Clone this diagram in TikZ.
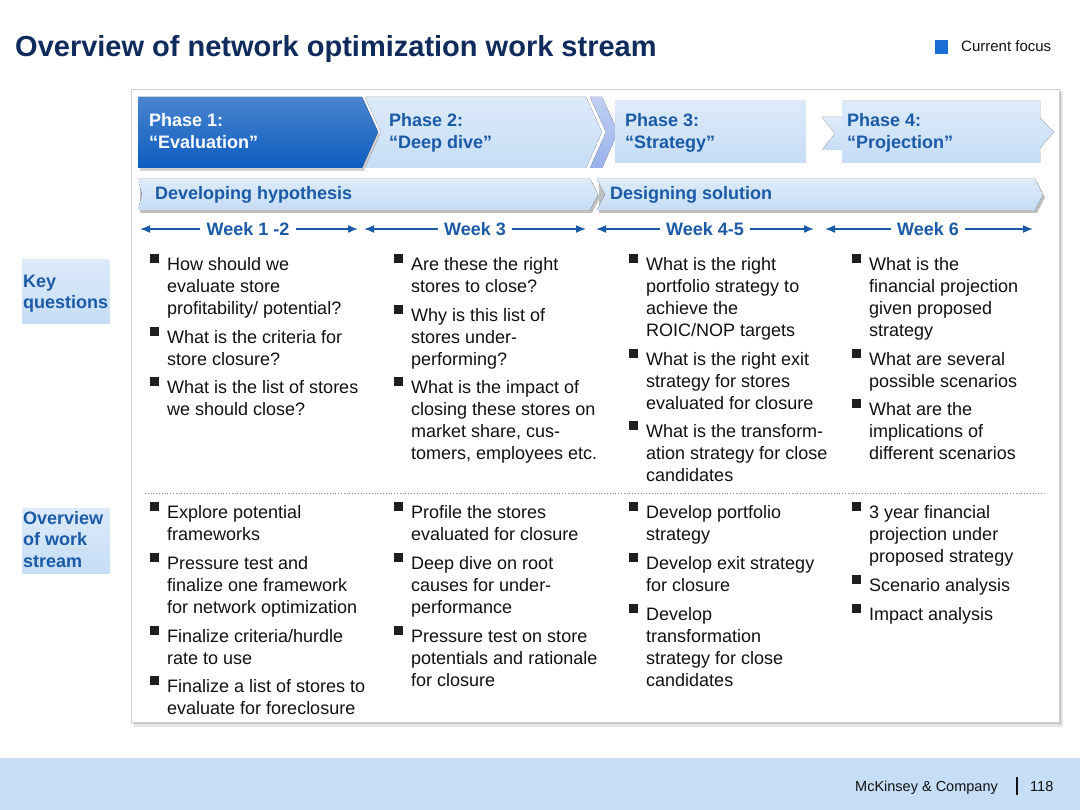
\documentclass[tikz,border=0pt]{standalone}
\usepackage{fontspec}
\setmainfont{Liberation Sans}
\usetikzlibrary{arrows.meta}
\definecolor{navy}{HTML}{0F2B5B}
\definecolor{pblue}{HTML}{0D5CBF}
\definecolor{lblue}{HTML}{C6DDF6}
\definecolor{tblue}{HTML}{1A5AA6}
\definecolor{bandc}{HTML}{98B1EA}
\definecolor{footc}{HTML}{C6DDF6}
\definecolor{focusc}{HTML}{1A6FD6}
\definecolor{txt}{HTML}{111111}
\tikzset{
  itm/.style={anchor=north west, align=left, inner sep=0pt, text=txt,
    font=\fontsize{18}{22}\selectfont},
  phasetxt/.style={anchor=north west, align=left, inner sep=0pt,
    font=\fontsize{18}{22}\selectfont\bfseries},
  bandtxt/.style={anchor=base west, inner sep=0pt, text=tblue,
    font=\fontsize{18}{22}\selectfont\bfseries},
  wk/.style={inner sep=6pt, text=tblue, font=\fontsize{18}{22}\selectfont\bfseries},
  warrow/.style={draw=tblue, line width=1.5pt, -{Latex[length=10pt,width=8pt]}},
  sidetxt/.style={anchor=north west, align=left, inner sep=0pt, text=tblue,
    font=\fontsize{18}{21.5}\selectfont\bfseries},
  lightshape/.style={top color=lblue!60!white, bottom color=lblue},
  bul/.style={fill=black!88},
}
% #1 name, #2 x of text, #3 baseline of first line, #4 text
\newcommand\bitem[4]{%
  \fill[bul] ({#2-17},{#3-16}) rectangle ({#2-8},{#3-7});
  \node[itm] (#1) at (#2,{#3-14}) {\rule{0pt}{14pt}#4};}
\begin{document}
\begin{tikzpicture}[x=1pt,y=-1pt]
\useasboundingbox (0,0) rectangle (1080,810);
\fill[white] (0,0) rectangle (1080,810);
% footer
\fill[footc] (0,758) rectangle (1080,810);
\node[anchor=base west, inner sep=0pt, text=txt, font=\fontsize{14.5}{16}\selectfont] (mck) at (855,791) {McKinsey \& Company};
\draw[line width=1.2pt, txt] (1017,777) -- (1017,795);
\node[anchor=base west, inner sep=0pt, text=txt, font=\fontsize{14.5}{16}\selectfont] (pg) at (1030,791) {118};
% title
\node[anchor=base west, inner sep=0pt, text=navy, font=\fontsize{29}{34}\selectfont\bfseries] (title) at (15,57) {Overview of network optimization work stream};
\fill[focusc] (935,40) rectangle (948,54);
\node[anchor=base west, inner sep=0pt, text=txt, font=\fontsize{15}{17}\selectfont] (focus) at (961,52) {Current focus};
% panel
\fill[black!10] (134,92) rectangle (1063,727);
\fill[black!24] (133,91) rectangle (1061,724);
\filldraw[fill=white, draw=black!18, line width=0.8pt] (131,89) rectangle (1059,722);
% phase shapes
\fill[black!18] (140,100) -- (364,100) -- (380,135) -- (364,171) -- (140,171) -- cycle;
\fill[top color=pblue!75!white, bottom color=pblue] (138,97) -- (362,97) -- (378,132) -- (362,168) -- (138,168) -- cycle;
\fill[lightshape] (365,97) -- (586,97) -- (602,132) -- (586,168) -- (365,168) -- (381,132) -- cycle;
\fill[top color=bandc!60!white, bottom color=bandc] (590,97) -- (602,97) -- (618,132) -- (602,168) -- (590,168) -- (606,132) -- cycle;
\fill[lightshape] (615,101) rectangle (806,163);
\fill[lightshape] (822,117) -- (842,117) -- (842,150) -- (822,150) -- (835,133.5) -- cycle;
\fill[lightshape] (842,101) -- (1040,101) -- (1040,118) -- (1054,132) -- (1040,148) -- (1040,163) -- (842,163) -- cycle;
\node[phasetxt, text=white] (ph1) at (149,112) {\rule{0pt}{14pt}Phase 1:\\“Evaluation”};
\node[phasetxt, text=tblue] (ph2) at (389,112) {\rule{0pt}{14pt}Phase 2:\\“Deep dive”};
\node[phasetxt, text=tblue] (ph3) at (625,112) {\rule{0pt}{14pt}Phase 3:\\“Strategy”};
\node[phasetxt, text=tblue] (ph4) at (847,112) {\rule{0pt}{14pt}Phase 4:\\“Projection”};
% bands
\fill[black!25] (140,182) -- (592,182) -- (600,197.5) -- (592,213) -- (140,213) -- cycle;
\fill[black!25] (599,182) -- (1037,182) -- (1045,197.5) -- (1037,213) -- (599,213) -- cycle;
\fill[lightshape] (138,179) -- (590,179) -- (598,194.5) -- (590,210) -- (138,210) -- (142,194.5) -- cycle;
\fill[lightshape] (597,179) -- (1035,179) -- (1043,194.5) -- (1035,210) -- (597,210) -- (605,194.5) -- cycle;
\node[bandtxt] (dev) at (155,200) {Developing hypothesis};
\node[bandtxt] (des) at (610,200) {Designing solution};
% weeks
\node[wk] (wk1) at (248,229) {Week 1 -2};
\node[wk] (wk2) at (475,229) {Week 3};
\node[wk] (wk3) at (705,229) {Week 4-5};
\node[wk] (wk4) at (928,229) {Week 6};
\coordinate (w1l) at (140,229); \coordinate (w1r) at (358,229);
\coordinate (w2l) at (364,229); \coordinate (w2r) at (586,229);
\coordinate (w3l) at (596,229); \coordinate (w3r) at (814,229);
\coordinate (w4l) at (825,229); \coordinate (w4r) at (1033,229);
\draw[warrow] (wk1.west) -- (w1l); \draw[warrow] (wk1.east) -- (w1r);
\draw[warrow] (wk2.west) -- (w2l); \draw[warrow] (wk2.east) -- (w2r);
\draw[warrow] (wk3.west) -- (w3l); \draw[warrow] (wk3.east) -- (w3r);
\draw[warrow] (wk4.west) -- (w4l); \draw[warrow] (wk4.east) -- (w4r);
% side labels
\fill[lightshape] (22,260) rectangle (110,324);
\fill[lightshape] (22,508) rectangle (110,573);
\node[sidetxt] (kq) at (23,273) {\rule{0pt}{14pt}Key\\questions};
\node[sidetxt] (ow) at (23,510) {\rule{0pt}{14pt}Overview\\of work\\stream};
% divider
\draw[black!45, dotted, line width=0.8pt] (145,493) -- (1045,493);
% key questions
\bitem{a1}{167}{270}{How should we\\evaluate store\\profitability/ potential?}
\bitem{a2}{167}{343}{What is the criteria for\\store closure?}
\bitem{a3}{167}{393}{What is the list of stores\\we should close?}
\bitem{b1}{411}{270}{Are these the right\\stores to close?}
\bitem{b2}{411}{321}{Why is this list of\\stores under-\\performing?}
\bitem{b3}{411}{393}{What is the impact of\\closing these stores on\\market share, cus-\\tomers, employees etc.}
\bitem{c1}{646}{270}{What is the right\\portfolio strategy to\\achieve the\\ROIC/NOP targets}
\bitem{c2}{646}{365}{What is the right exit\\strategy for stores\\evaluated for closure}
\bitem{c3}{646}{437}{What is the transform-\\ation strategy for close\\candidates}
\bitem{d1}{869}{270}{What is the\\financial projection\\given proposed\\strategy}
\bitem{d2}{869}{365}{What are several\\possible scenarios}
\bitem{d3}{869}{415}{What are the\\implications of\\different scenarios}
% overview
\bitem{e1}{167}{518}{Explore potential\\frameworks}
\bitem{e2}{167}{569}{Pressure test and\\finalize one framework\\for network optimization}
\bitem{e3}{167}{642}{Finalize criteria/hurdle\\rate to use}
\bitem{e4}{167}{692}{Finalize a list of stores to\\evaluate for foreclosure}
\bitem{f1}{411}{518}{Profile the stores\\evaluated for closure}
\bitem{f2}{411}{569}{Deep dive on root\\causes for under-\\performance}
\bitem{f3}{411}{642}{Pressure test on store\\potentials and rationale\\for closure}
\bitem{g1}{646}{518}{Develop portfolio\\strategy}
\bitem{g2}{646}{569}{Develop exit strategy\\for closure}
\bitem{g3}{646}{620}{Develop\\transformation\\strategy for close\\candidates}
\bitem{h1}{869}{518}{3 year financial\\projection under\\proposed strategy}
\bitem{h2}{869}{591}{Scenario analysis}
\bitem{h3}{869}{620}{Impact analysis}
\end{tikzpicture}
\end{document}
